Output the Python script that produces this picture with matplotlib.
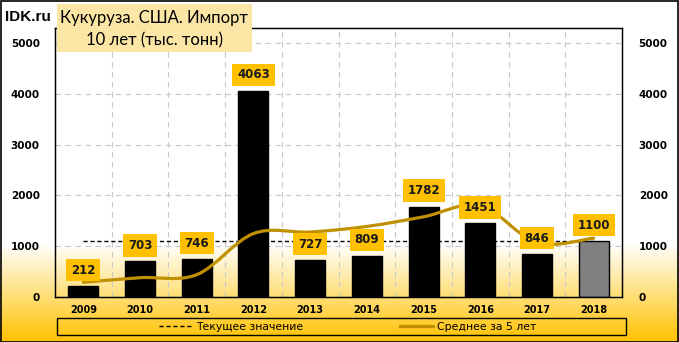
import numpy as np
import matplotlib
matplotlib.use("Agg")
import matplotlib.pyplot as plt
from matplotlib.patches import Rectangle, PathPatch
from matplotlib.path import Path
from matplotlib.lines import Line2D

# ---- datos ----
years = ["2009", "2010", "2011", "2012", "2013", "2014", "2015", "2016", "2017", "2018"]
values = [212, 703, 746, 4063, 727, 809, 1782, 1451, 846, 1100]
avg5 = [290, 380, 440, 1250, 1280, 1390, 1580, 1800, 1070, 1160]
y_ticks = [0, 1000, 2000, 3000, 4000, 5000]

title1 = "Кукуруза. США. Импорт"
title2 = "10 лет (тыс. тонн)"
lbl_current = "Текущее значение"
lbl_avg = "Среднее за 5 лет"

GOLD = "#FFC000"
AVG_COL = "#BF9000"
W, H = 679, 342

fig = plt.figure(figsize=(W / 100, H / 100), dpi=100)

# fondo degradado (blanco -> dorado abajo)
bg = fig.add_axes([0, 0, 1, 1], zorder=-10)
rows = np.zeros((H, 1, 3))
top = np.array([1.0, 1.0, 1.0])
bot = np.array([1.0, 0.76, 0.0])
start = 243
for i in range(H):
    t = 0 if i < start else (i - start) / (H - 1 - start)
    rows[i, 0] = top * (1 - t) + bot * t
bg.imshow(rows, aspect="auto", extent=[0, 1, 0, 1])
bg.axis("off")

ax = fig.add_axes([55 / W, 1 - 297 / H, (622 - 55) / W, (297 - 28) / H])
ax.set_facecolor("none")
x = np.arange(len(years))

# grid
ax.set_ylim(0, 5300)
ax.set_xlim(-0.5, len(years) - 0.5)
for yv in y_ticks[1:]:
    ax.axhline(yv, color="#C8C8C8", lw=0.8, ls=(0, (5, 4)), zorder=0)
for xv in x[:-1] + 0.5:
    ax.axvline(xv, color="#C8C8C8", lw=0.8, ls=(0, (5, 4)), zorder=0)

# valor actual (linea discontinua)
ax.plot([x[0], x[-1]], [values[-1], values[-1]], color="black", lw=1,
        ls=(0, (3, 2)), zorder=1)

# barras
colors = ["black"] * (len(values) - 1) + ["#808080"]
ax.bar(x, values, width=0.53, color=colors, edgecolor="black", linewidth=1, zorder=2)

# promedio 5 años, suavizado tipo Excel (bezier)
pts = np.column_stack([x, avg5]).astype(float)
verts = [tuple(pts[0])]
codes = [Path.MOVETO]
n = len(pts)
for i in range(n - 1):
    p0 = pts[i - 1] if i > 0 else pts[i]
    p1 = pts[i]
    p2 = pts[i + 1]
    p3 = pts[i + 2] if i + 2 < n else pts[i + 1]
    c1 = p1 + (p2 - p0) / 6
    c2 = p2 - (p3 - p1) / 6
    verts += [tuple(c1), tuple(c2), tuple(p2)]
    codes += [Path.CURVE4] * 3
ax.add_patch(PathPatch(Path(verts, codes), fc="none", ec=AVG_COL, lw=2.3,
                       capstyle="round", zorder=3))

# etiquetas
for xi, v in zip(x, values):
    ax.annotate(f"{v}", (xi, v), xytext=(0, 11.5), textcoords="offset points",
                ha="center", va="center", fontsize=8.5, fontweight="bold",
                color="#1a1a1a", zorder=5,
                bbox=dict(boxstyle="square,pad=0.4", fc=GOLD, ec="none"))

ax.set_yticks(y_ticks)
ax.set_yticklabels([str(t) for t in y_ticks])
ax.set_xticks(x)
ax.set_xticklabels(years)
ax.tick_params(axis="y", length=0, pad=11, labelsize=7.5)
ax.tick_params(axis="x", length=0, pad=6, labelsize=7)
for t in ax.get_yticklabels() + ax.get_xticklabels():
    t.set_fontweight("bold")
for s in ax.spines.values():
    s.set_color("black")
    s.set_linewidth(1)

ax2 = ax.twinx()
ax2.set_ylim(ax.get_ylim())
ax2.set_yticks(y_ticks)
ax2.set_yticklabels([str(t) for t in y_ticks])
ax2.tick_params(axis="y", length=0, pad=12, labelsize=7.5)
for t in ax2.get_yticklabels():
    t.set_fontweight("bold")

# titulo
fig.patches.append(Rectangle((57 / W, 1 - 52 / H), (252 - 57) / W, 48 / H,
                             transform=fig.transFigure, fc="#FCE6A6", ec="none",
                             zorder=4))
fig.text(154 / W, 1 - 18 / H, title1, ha="center", va="center",
         fontsize=12, family="Lato", zorder=5)
fig.text(154 / W, 1 - 40 / H, title2, ha="center", va="center",
         fontsize=12, family="Lato", zorder=5)
fig.text(5 / W, 1 - 17 / H, "IDK.ru", ha="left", va="center", fontsize=11,
         fontweight="bold", family="Liberation Sans")

# leyenda
fig.patches.append(Rectangle((57 / W, 1 - 335 / H), (626 - 57) / W, 17 / H,
                             transform=fig.transFigure, fc="none", ec="black",
                             lw=1))
handles = [Line2D([], [], color="black", lw=1, ls=(0, (3, 2))),
           Line2D([], [], color=AVG_COL, lw=2.3)]
fig.legend(handles, [lbl_current, lbl_avg], loc="center",
           bbox_to_anchor=(348 / W, 1 - 326.5 / H), ncol=2, frameon=False,
           fontsize=7.8, handlelength=3.0, handletextpad=0.45, columnspacing=8.9)

# marco exterior
fig.patches.append(Rectangle((0.5 / W, 0.5 / H), (W - 1.5) / W, (H - 1.5) / H,
                             transform=fig.transFigure, fc="none", ec="black",
                             lw=1.2))

fig.savefig("out.png", dpi=100)
